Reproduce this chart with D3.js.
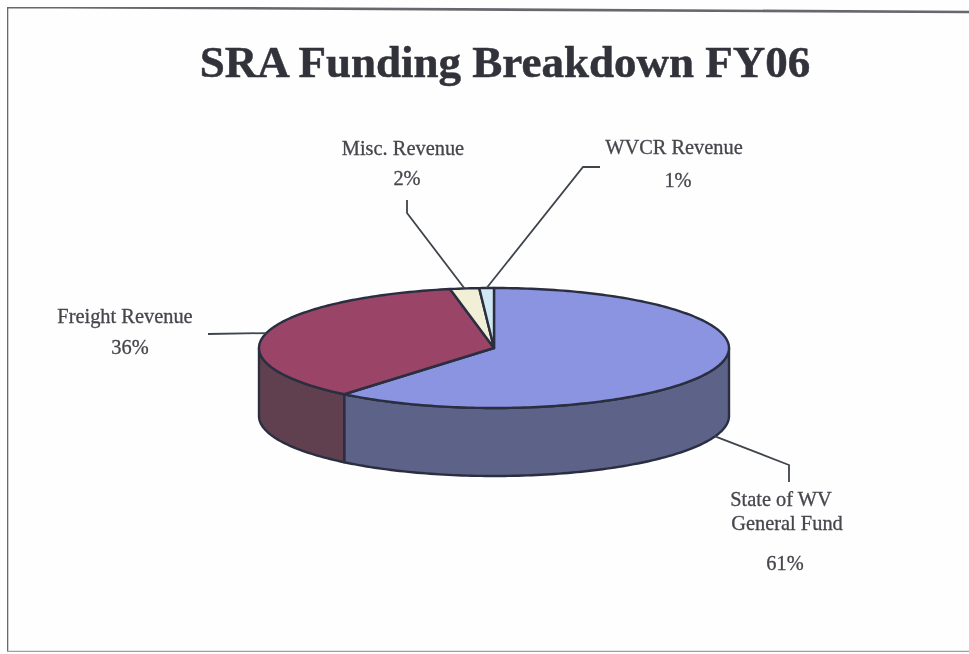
<!DOCTYPE html>
<html>
<head>
<meta charset="utf-8">
<script src="https://cdn.jsdelivr.net/npm/d3@7"></script>
<style>
    body { margin: 0; background: #fefefe; }
    svg { display: block; }
    text { font-family: "Liberation Serif", serif; fill: #45464c; }
    .label { font-size: 20.4px; stroke: #45464c; stroke-width: 0.3; }
    .title { font-size: 45px; font-weight: bold; fill: #32333b; stroke: #32333b; stroke-width: 0.5; }
    .frame { fill: none; stroke: #66676d; stroke-width: 2.6; }
    .frame-bottom { fill: none; stroke: #a0a0a4; stroke-width: 2.4; }
    .leader { fill: none; stroke: #3f444c; stroke-width: 1.8; }
    .edge { stroke: #2a2f40; stroke-width: 2.4; stroke-linejoin: round; }
</style>
</head>
<body>
<svg id="chart" width="969" height="654">
    <defs>
        <filter id="scan" x="0" y="0" width="100%" height="100%">
            <feGaussianBlur stdDeviation="0.5"></feGaussianBlur>
        </filter>
    </defs>
    <g id="page" filter="url(#scan)"></g>
</svg>
<script>
const categories = ["State of WV General Fund", "Freight Revenue", "Misc. Revenue", "WVCR Revenue"];
const values = [61, 36, 2, 1];
const topColors = ["#8a94e0", "#9a4468", "#f1efd6", "#cfe8f2"];
const sideColors = ["#5d6288", "#61404f", "#9a9a88", "#8aa0a8"];

const svg = d3.select("#page");
const cx = 494, cy = 348, rx = 235, ry = 60, depth = 68;

svg.append("path")
    .attr("class", "frame")
    .attr("d", d3.line()([[969, 12], [7, 7], [7, 652]]));
svg.append("path")
    .attr("class", "frame-bottom")
    .attr("d", d3.line()([[7, 652], [969, 652]]));

svg.append("text")
    .attr("class", "title")
    .attr("x", 505)
    .attr("y", 77)
    .attr("text-anchor", "middle")
    .text("SRA Funding Breakdown FY06");

const slices = d3.pie().sort(null).value(d => d)(values);

function px(a) {
    return cx + rx * Math.sin(a);
}

function py(a) {
    return cy - ry * Math.cos(a);
}

// outline of one slice on the top face, walked along the rim
function rim(a0, a1, dz) {
    let n = Math.max(2, Math.ceil((a1 - a0) / 0.02));
    return d3.range(n + 1).map(i => {
        let a = a0 + (a1 - a0) * i / n;
        return [px(a), py(a) + dz];
    });
}

// walls first, only the front half of the rim can be seen
slices.forEach((s, i) => {
    let a0 = Math.max(s.startAngle, Math.PI / 2);
    let a1 = Math.min(s.endAngle, Math.PI * 3 / 2);
    if (a0 >= a1) {
        return;
    }
    let pts = rim(a0, a1, 0).concat(rim(a0, a1, depth).reverse());
    svg.append("path")
        .attr("class", "edge")
        .attr("fill", sideColors[i])
        .attr("d", d3.line()(pts) + "Z");
});

slices.forEach((s, i) => {
    let pts = [[cx, cy]].concat(rim(s.startAngle, s.endAngle, 0));
    svg.append("path")
        .attr("class", "edge")
        .attr("fill", topColors[i])
        .attr("d", d3.line()(pts) + "Z");
});

// leader lines, middle of the slice to the label
const leaderEnds = [
    [[789, 465], [789, 482]],
    [[208, 334]],
    [[407, 213], [407, 200]],
    [[583, 167], [600, 167]]
];
slices.forEach((s, i) => {
    let a = (s.startAngle + s.endAngle) / 2;
    // the general fund line leaves from the bottom of the wall
    let dz = i === 0 ? depth : 0;
    svg.append("path")
        .attr("class", "leader")
        .attr("d", d3.line()([[px(a), py(a) + dz]].concat(leaderEnds[i])));
});

const labelLines = [
    [["State of WV", 781, 506], ["General Fund", 787, 530], [values[0] + "%", 785, 570]],
    [["Freight Revenue", 125, 323], [values[1] + "%", 130, 354]],
    [["Misc. Revenue", 403, 155], [values[2] + "%", 407, 185]],
    [["WVCR Revenue", 674, 154], [values[3] + "%", 678, 187]]
];
labelLines.forEach(lines => {
    lines.forEach(l => {
        svg.append("text")
            .attr("class", "label")
            .attr("x", l[1])
            .attr("y", l[2])
            .attr("text-anchor", "middle")
            .text(l[0]);
    });
});
</script>
</body>
</html>
